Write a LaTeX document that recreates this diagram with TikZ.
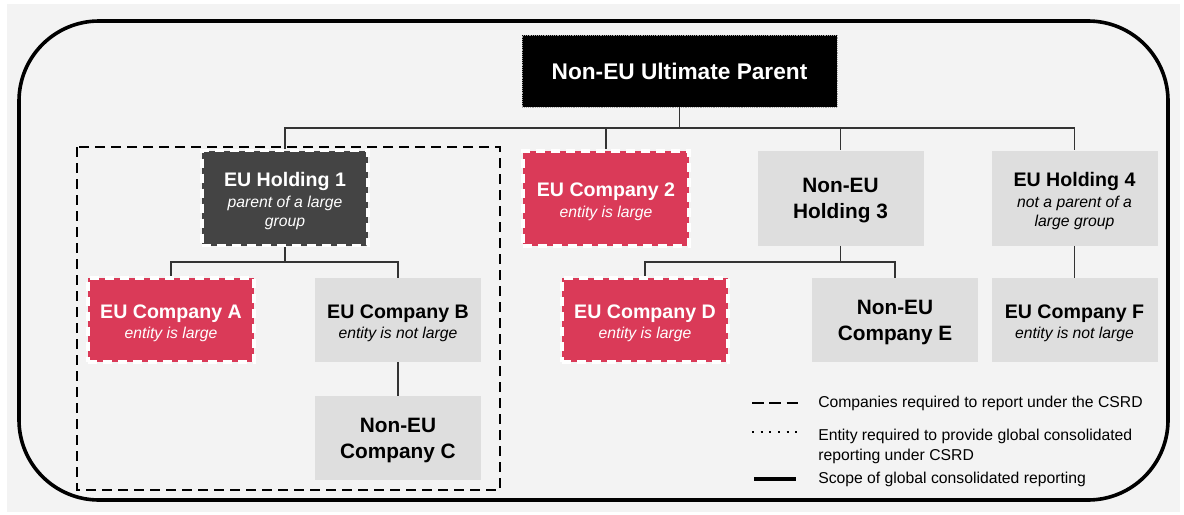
\documentclass[tikz,border=0pt]{standalone}
\usepackage{fontspec}
\setmainfont{Liberation Sans}
\usetikzlibrary{positioning}
\definecolor{bgray}{HTML}{F3F3F3}
\definecolor{csrdred}{HTML}{DA3A58}
\definecolor{darkbox}{HTML}{444444}
\definecolor{lightbox}{HTML}{DEDEDE}
\definecolor{wirecol}{HTML}{333333}
\newcommand{\boxhead}{\fontsize{14.7}{19}\selectfont\bfseries\rule{0pt}{15pt}}
\newcommand{\bighead}{\fontsize{15.6}{19.5}\selectfont\bfseries}
\tikzstyle{entity} = [rectangle, align=center, inner sep=0pt, minimum width=124.5pt, minimum height=63pt, font=\fontsize{11.8}{14.25}\selectfont]
\tikzstyle{largebox} = [entity, fill=csrdred, draw=white, line width=2.7pt, dash pattern=on 6.75pt off 4.5pt, text=white]
\tikzstyle{holdingbox} = [largebox, fill=darkbox, minimum height=71.25pt]
\tikzstyle{plainbox} = [entity, fill=lightbox, text=black]
\tikzstyle{nonEU} = [plainbox, font=\bighead]
\tikzstyle{ultimate} = [rectangle, fill=black, draw=gray!70, densely dotted, thin, minimum width=236pt, minimum height=54pt, text=white, font=\fontsize{17}{20}\selectfont\bfseries]
\tikzstyle{wire} = [draw=wirecol, line width=1.1pt]
\tikzstyle{legend} = [anchor=west, align=left, inner sep=0pt, font=\fontsize{11.8}{14.5}\selectfont]

\begin{document}
\begin{tikzpicture}[x=0.75pt,y=-0.75pt]

        \useasboundingbox (0,0) rectangle (1184,514);
        \fill[white] (0,0) rectangle (1184,514);
        \fill[bgray] (7,4) rectangle (1180,512);
        \draw[line width=2.7pt, rounded corners=60pt] (19,21) rectangle (1168,500);
        \draw[line width=2.1pt, dash pattern=on 7.5pt off 4.5pt] (77,147) rectangle (500,490);

        \node[ultimate] (Parent) at (679.5,71) {Non-EU Ultimate Parent};

        \node[holdingbox] (Holding1) at (285,198) {{\boxhead EU Holding 1}\\[1pt]{\itshape parent of a large}\\{\itshape group}};
        \node[largebox, minimum height=71.25pt] (Company2) at (606,198.5) {{\boxhead EU Company 2}\\[1pt]{\itshape entity is large}};
        \node[nonEU, minimum height=71.25pt] (Holding3) at (840.5,198) {\rule{0pt}{15pt}Non-EU\\Holding 3};
        \node[plainbox, minimum height=71.25pt] (Holding4) at (1074.5,198) {{\boxhead EU Holding 4}\\[1pt]{\itshape not a parent of a}\\{\itshape large group}};

        \node[largebox] (CompanyA) at (171,320) {{\boxhead EU Company A}\\[1pt]{\itshape entity is large}};
        \node[plainbox] (CompanyB) at (398,320) {{\boxhead EU Company B}\\[1pt]{\itshape entity is not large}};
        \node[nonEU] (CompanyC) [below of=CompanyB, node distance=88.5pt] {\rule{0pt}{15pt}Non-EU\\Company C};
        \node[largebox] (CompanyD) at (645,320) {{\boxhead EU Company D}\\[1pt]{\itshape entity is large}};
        \node[nonEU] (CompanyE) at (895,320) {\rule{0pt}{15pt}Non-EU\\Company E};
        \node[plainbox] (CompanyF) [below of=Holding4, node distance=91.5pt] {{\boxhead EU Company F}\\[1pt]{\itshape entity is not large}};

        \coordinate (topbus) at (0,128);
        \coordinate (midbus) at (0,262);

        \foreach \x in {Holding1,Company2,Holding3,Holding4}
        \draw[wire] (Parent.south) -- (Parent.south |- topbus) -| (\x.north);

        \foreach \x in {CompanyA,CompanyB}
        \draw[wire] (Holding1.south) -- (Holding1.south |- midbus) -| (\x.north);

        \foreach \x in {CompanyD,CompanyE}
        \draw[wire] (Holding3.south) -- (Holding3.south |- midbus) -| (\x.north);

        \draw[wire] (CompanyB) -- (CompanyC);
        \draw[wire] (Holding4) -- (CompanyF);

        \node[legend] (LegReport) at (818,403) {Companies required to report under the CSRD};
        \node[legend] (LegEntity) at (818,446.5) {Entity required to provide global consolidated\\reporting under CSRD};
        \node[legend] (LegScope) at (818,479) {Scope of global consolidated reporting};

        \draw[line width=2.2pt, dash pattern=on 9pt off 4pt] (752,403) -- (798,403);
        \draw[line width=1.5pt, dash pattern=on 1.5pt off 5pt] (752,432) -- (798,432);
        \draw[line width=2.5pt] (754,479) -- (796,479);

\end{tikzpicture}
\end{document}
